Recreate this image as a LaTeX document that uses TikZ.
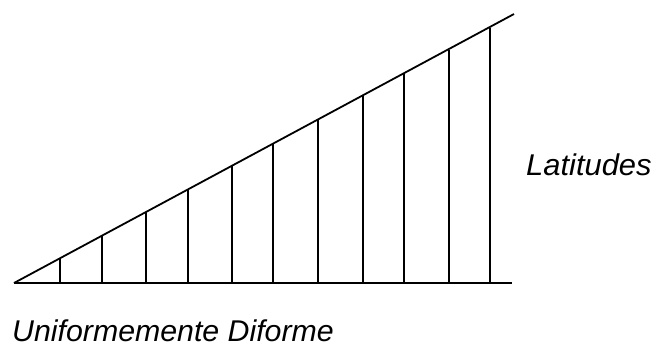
\documentclass[tikz,border=0pt]{standalone}
\usepackage{fontspec}
\setmainfont{Liberation Sans}
\begin{document}
\begin{tikzpicture}[x=1pt,y=-1pt,
  ln/.style={line width=1.8pt,black},
  lbl/.style={inner sep=0pt,font=\fontsize{30}{32}\selectfont\itshape}]
\useasboundingbox (0,0) rectangle (666,349);
\coordinate (O) at (14,283);
\coordinate (B) at (512,283);
\coordinate (T) at (514,14);
\draw[ln] (O) -- (B);
\draw[ln] (O) -- (T);
\foreach \xx [count=\i] in {60,102,146,188,232,273,318,363,404,449,490}{
  \coordinate (b\i) at (\xx,283);
  \coordinate (t\i) at (\xx,{283-0.5363*(\xx-14)});
  \draw[ln] (b\i) -- (t\i);
}
\node[lbl,anchor=west,xscale=1.03] (lat) at (526,165) {Latitudes};
\node[lbl,anchor=west,xscale=1.01] (uni) at (12,331) {Uniformemente Diforme};
\end{tikzpicture}
\end{document}
